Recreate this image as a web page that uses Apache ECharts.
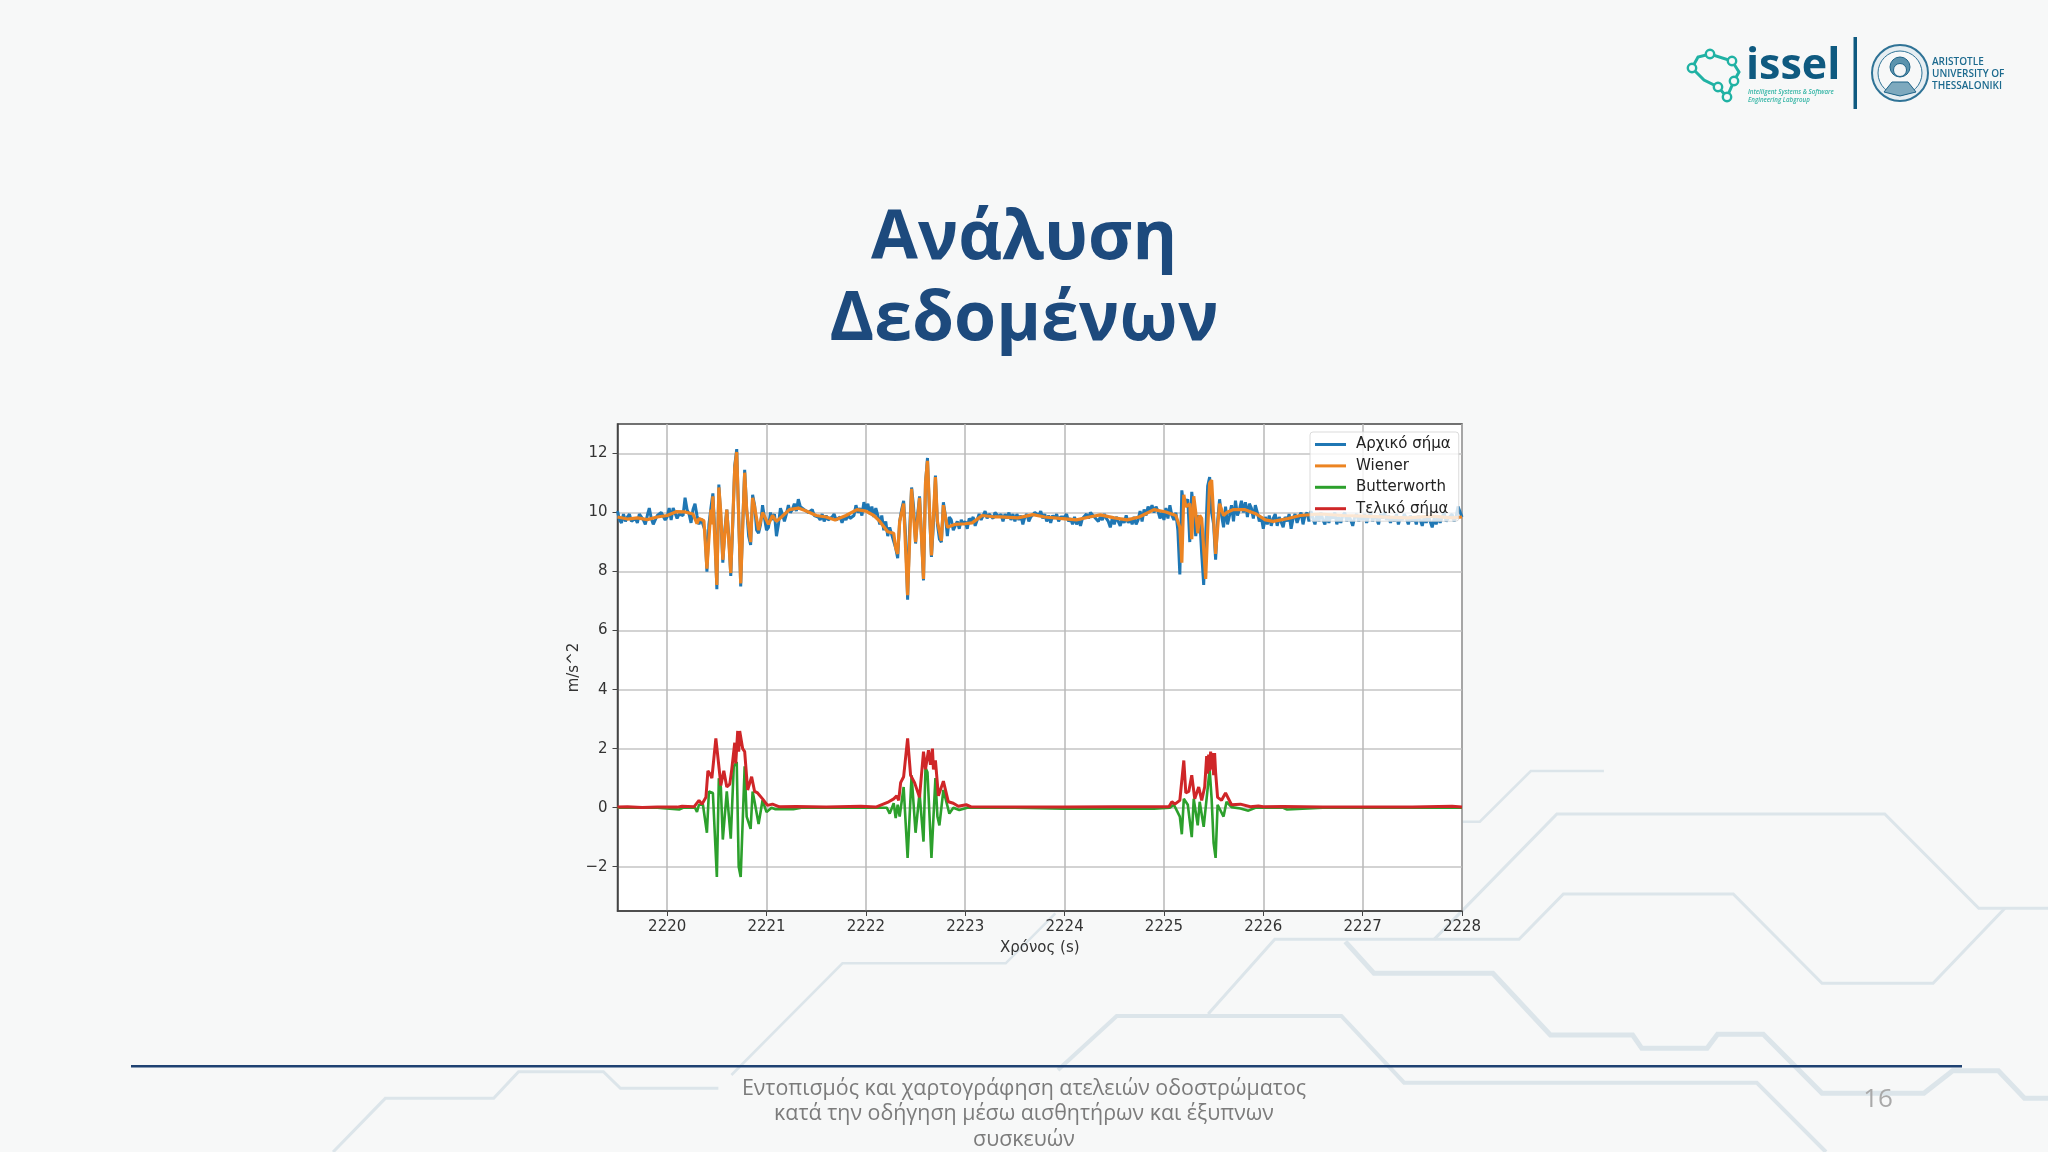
<!DOCTYPE html>
<html><head><meta charset="utf-8">
<style>html,body{margin:0;padding:0;background:#f7f8f8}#c{width:2048px;height:1152px}</style>
<script src="https://cdn.jsdelivr.net/npm/echarts@6/dist/echarts.min.js"></script>
</head><body><div id="c"></div>
<script>
const xTicks=[2220,2221,2222,2223,2224,2225,2226,2227,2228];
const yTicks=[-2,0,2,4,6,8,10,12];
const seriesNames=['Αρχικό σήμα','Wiener','Butterworth','Τελικό σήμα'];
const blueStart=2219.5, blueStep=0.02;
const blueV=[
10.05,9.75,9.65,9.95,9.7,9.85,9.95,9.7,9.65,9.8,9.65,9.95,10.0,9.75,9.6,9.9,10.15,9.8,9.6,9.75,9.9,9.85,10.0,9.95,9.75,
9.85,10.15,9.75,10.15,10.1,9.8,9.95,9.95,9.9,10.5,10.1,9.95,9.65,10.1,10.3,9.9,9.6,9.8,9.75,9.4,8.0,9.6,10.15,10.65,9.3,
7.4,10.95,9.8,8.3,9.4,10.1,9.2,7.85,9.6,11.6,12.15,9.8,7.5,9.6,11.45,10.1,9.2,8.9,10.6,10.25,9.4,9.3,9.6,10.25,9.8,
9.4,9.5,10.0,9.75,9.95,9.2,9.6,10.15,9.95,9.7,9.95,10.25,10.0,10.1,10.3,10.05,10.45,10.2,10.15,10.1,10.05,10.0,9.95,10.1,9.9,
9.95,9.85,9.75,9.95,9.7,9.9,9.75,9.7,9.85,9.95,9.75,9.8,9.85,9.65,9.85,9.75,9.95,9.8,9.75,9.9,10.25,10.0,10.15,9.9,10.35,
10.1,10.3,9.95,10.2,9.85,10.15,9.9,9.6,9.9,9.4,9.7,9.2,9.5,9.25,9.3,8.8,8.45,9.7,10.1,10.4,9.2,7.05,9.4,10.85,10.2,
8.95,9.9,10.55,9.2,7.7,11.0,11.85,10.0,8.5,9.6,11.25,9.6,9.1,9.0,10.35,9.9,9.2,9.85,9.75,9.4,9.4,9.7,9.45,9.75,9.6,
9.7,9.45,9.8,9.7,9.85,9.55,9.75,9.95,9.75,9.8,10.05,9.8,9.95,10.0,9.8,10.0,9.95,9.85,9.95,9.7,9.95,9.8,10.0,9.75,9.95,
9.7,9.95,9.75,9.9,9.6,9.85,9.95,9.7,9.85,9.8,10.0,10.05,9.9,10.05,9.8,9.95,9.7,9.9,9.65,9.9,9.8,9.95,9.7,9.85,9.9,
9.85,9.95,9.7,9.8,9.6,9.85,9.6,9.75,9.55,9.8,9.85,9.95,9.8,10.0,9.95,9.85,9.9,9.7,9.85,9.75,9.95,9.8,9.7,9.5,9.8,
9.6,9.85,9.7,9.55,9.8,9.65,9.9,9.65,9.8,9.6,9.85,9.6,9.75,10.05,9.7,10.1,9.9,10.2,10.05,10.25,10.0,10.2,10.05,9.8,10.0,
9.75,10.15,9.8,10.25,9.9,9.75,10.0,9.4,7.9,10.75,10.2,10.35,10.45,9.0,10.7,10.0,9.2,9.9,9.8,8.6,7.55,9.2,10.9,11.2,10.0,
9.6,8.4,9.7,10.45,9.9,9.5,10.2,9.6,9.9,10.25,9.7,10.4,9.9,10.1,10.4,10.0,10.35,9.85,10.3,10.15,9.8,10.25,10.0,9.7,9.85,
9.45,9.85,9.6,9.9,9.55,9.8,9.95,9.55,9.85,9.9,9.5,9.85,9.7,9.95,9.45,9.8,9.95,9.65,9.85,10.0,9.6,9.9,10.0,9.7,10.05,
9.8,9.6,9.95,9.7,10.0,9.75,9.6,9.95,9.65,9.9,9.8,10.0,9.6,9.85,9.65,9.9,10.0,9.7,9.9,9.75,9.55,9.85,9.95,9.7,9.9,
9.75,9.95,9.65,9.85,10.0,9.7,9.9,9.8,9.6,9.95,9.8,10.0,9.75,9.9,9.65,9.85,9.7,9.95,9.6,9.85,9.75,9.95,9.8,9.6,9.9,
9.7,9.85,9.6,9.9,9.75,9.55,9.85,9.65,9.9,9.7,9.5,9.8,9.6,9.9,9.65,9.85,10.0,9.7,9.8,9.75,9.95,9.7,9.85,10.2,10.15,
9.85];
const orangeT=[2219.5,2219.6,2219.7,2219.8,2219.9,2220.0,2220.09,2220.18,2220.26,2220.3,2220.32,2220.34,2220.37,2220.4,2220.44,2220.45,2220.46,2220.5,2220.52,2220.54,2220.56,2220.6,2220.64,2220.68,2220.7,2220.74,2220.78,2220.8,2220.84,2220.86,2220.88,2220.92,2220.96,2221.02,2221.06,2221.1,2221.15,2221.23,2221.32,2221.4,2221.5,2221.6,2221.69,2221.8,2221.91,2222.0,2222.08,2222.14,2222.22,2222.28,2222.3,2222.32,2222.34,2222.38,2222.42,2222.46,2222.5,2222.54,2222.58,2222.6,2222.62,2222.66,2222.7,2222.72,2222.76,2222.78,2222.82,2222.9,2223.0,2223.07,2223.17,2223.3,2223.35,2223.53,2223.68,2223.8,2223.95,2224.12,2224.25,2224.36,2224.5,2224.63,2224.75,2224.9,2225.02,2225.12,2225.16,2225.18,2225.2,2225.22,2225.26,2225.28,2225.3,2225.32,2225.34,2225.36,2225.38,2225.42,2225.46,2225.48,2225.52,2225.56,2225.6,2225.63,2225.7,2225.81,2225.93,2226.02,2226.1,2226.25,2226.37,2226.57,2226.8,2227.0,2227.2,2227.45,2227.7,2227.9,2228];
const orangeV=[9.85,9.78,9.82,9.76,9.85,9.9,10.03,10.02,9.95,9.62,9.8,9.82,9.72,8.1,10.1,9.6,10.55,7.55,10.85,10.0,8.4,10.1,7.95,11.5,12.05,7.6,11.35,10.1,9.0,10.5,10.2,9.4,10.0,9.6,9.9,9.7,9.85,10.1,10.15,10.05,9.9,9.85,9.75,9.9,10.1,10.05,9.9,9.7,9.35,9.3,8.8,8.6,9.7,10.3,7.2,10.8,9.0,10.5,7.75,11.0,11.75,8.55,11.2,9.7,9.05,10.25,9.5,9.6,9.62,9.65,9.9,9.85,9.85,9.82,9.93,9.85,9.8,9.75,9.85,9.92,9.82,9.75,9.85,10.1,10.02,9.9,9.5,8.3,10.6,10.2,10.3,9.1,10.55,10.0,9.3,9.9,9.8,7.75,11.0,11.1,8.6,10.3,9.9,10.0,10.1,10.1,9.95,9.75,9.7,9.8,9.9,9.95,9.9,9.88,9.85,9.82,9.88,9.82,9.85];
const greenT=[2219.5,2219.9,2220.12,2220.16,2220.28,2220.3,2220.32,2220.36,2220.4,2220.42,2220.44,2220.46,2220.5,2220.52,2220.54,2220.56,2220.6,2220.64,2220.67,2220.7,2220.72,2220.74,2220.78,2220.8,2220.84,2220.86,2220.88,2220.92,2220.96,2221.0,2221.05,2221.09,2221.27,2221.35,2221.9,2222.21,2222.24,2222.28,2222.3,2222.32,2222.34,2222.38,2222.42,2222.46,2222.5,2222.54,2222.58,2222.6,2222.62,2222.66,2222.7,2222.72,2222.74,2222.78,2222.84,2222.88,2222.94,2223.02,2223.5,2224.0,2224.34,2224.9,2225.06,2225.1,2225.13,2225.16,2225.18,2225.2,2225.24,2225.28,2225.3,2225.34,2225.36,2225.4,2225.46,2225.48,2225.5,2225.52,2225.54,2225.6,2225.63,2225.68,2225.77,2225.85,2225.92,2226.0,2226.2,2226.24,2226.6,2227.0,2228];
const greenV=[0,0,-0.06,0,0,-0.14,0.1,0.1,-0.85,0.55,0.55,0.5,-2.35,1.0,0.7,-1.08,0.55,-1.05,1.4,1.55,-2.0,-2.35,1.4,-0.3,-0.72,0.55,0.2,-0.55,0.25,-0.15,0,-0.05,-0.05,0,0,0,-0.2,0.15,-0.35,0.1,-0.3,0.7,-1.7,1.1,-0.85,0.5,-1.15,1.35,1.2,-1.7,1.0,-0.3,-0.6,0.6,-0.2,0,-0.08,0,0,-0.03,-0.03,-0.03,0,0.1,-0.1,-0.3,-0.9,0.3,0.1,-1.0,0.3,-0.6,0.2,-0.65,1.3,0.3,-1.2,-1.7,0.1,-0.3,0.2,0.02,-0.03,-0.1,0,0,0,-0.06,0,0,0];
const redT=[2219.5,2219.6,2219.75,2219.9,2220.1,2220.15,2220.27,2220.32,2220.35,2220.39,2220.41,2220.43,2220.45,2220.49,2220.53,2220.54,2220.57,2220.6,2220.63,2220.65,2220.68,2220.69,2220.71,2220.72,2220.73,2220.74,2220.76,2220.78,2220.81,2220.85,2220.88,2220.91,2220.96,2221.01,2221.06,2221.13,2221.3,2221.6,2221.95,2222.1,2222.23,2222.28,2222.31,2222.33,2222.35,2222.38,2222.4,2222.42,2222.45,2222.49,2222.54,2222.58,2222.6,2222.63,2222.65,2222.67,2222.68,2222.7,2222.73,2222.78,2222.83,2222.88,2222.93,2223.01,2223.06,2223.5,2224.0,2224.5,2225.05,2225.08,2225.11,2225.16,2225.2,2225.22,2225.25,2225.28,2225.31,2225.35,2225.38,2225.41,2225.43,2225.44,2225.45,2225.46,2225.47,2225.48,2225.49,2225.5,2225.51,2225.52,2225.54,2225.58,2225.62,2225.68,2225.77,2225.87,2225.95,2226.0,2226.2,2226.6,2227.0,2227.5,2227.9,2228];
const redV=[0.02,0.03,0.01,0.02,0.02,0.05,0.03,0.25,0.12,0.35,1.25,1.15,1.0,2.35,1.1,0.75,1.25,0.7,0.8,1.3,2.2,1.5,2.6,1.9,2.6,2.6,2.0,1.9,0.6,1.05,0.55,0.5,0.3,0.08,0.12,0.03,0.04,0.02,0.05,0.02,0.2,0.3,0.4,0.25,0.85,1.05,1.0,2.35,1.1,0.85,0.35,1.9,1.3,1.95,1.45,2.0,1.3,1.6,0.4,0.9,0.2,0.15,0.05,0.1,0.03,0.02,0.02,0.03,0.03,0.2,0.12,0.25,1.6,0.5,0.55,1.1,0.3,0.7,0.25,0.7,1.75,1.15,1.8,1.25,1.9,1.3,1.85,1.1,1.85,1.2,0.35,0.25,0.5,0.1,0.12,0.03,0.06,0.03,0.04,0.02,0.02,0.02,0.05,0.02];

const zip=(t,v)=>t.map((x,i)=>[x,v[i]]);
const blueData=blueV.map((v,i)=>[+(blueStart+i*blueStep).toFixed(2),v]);

const K=2048/1568;
const bgPaths=[
 {w:2.5,p:[[1100,185],[1133,185],[1172,33],[1228,33]]},
 {w:3,p:[[1098,538],[1192,162],[1443,162],[1515,445],[1568,445]]},
 {w:3,p:[[925,762],[976,538],[1163,538],[1197,402],[1327,402],[1395,670],[1480,670],[1535,445]]},
 {w:4,p:[[810,930],[855,768],[1027,768],[1075,968],[1345,968],[1398,1176]]},
 {w:5,p:[[1030,545],[1052,640],[1143,640],[1187,825],[1250,825],[1257,865],[1307,865],[1315,823],[1350,823],[1395,1000],[1473,1000],[1495,932],[1530,932],[1550,1015],[1568,1015]]},
 {w:2.5,p:[[560,945],[645,610],[770,610],[808,460]]},
 {w:3,p:[[255,1176],[295,1015],[378,1015],[397,935],[462,935],[475,985],[550,985]]}
];
const bg=bgPaths.map(o=>({type:'polyline',z:-10,silent:true,
  shape:{points:o.p.map(([x,y])=>[x*K,760+y/3])},
  style:{fill:null,stroke:'#dce5ea',lineWidth:o.w,lineJoin:'miter'}}));

const navy='#1d4a7d';
const txt=(x,y,text,font,fill,align)=>({type:'text',x,y,z:5,silent:true,
  style:{text,font,fill,align:align||'center',verticalAlign:'middle'}});

const nodes=[[1710,54],[1732,61],[1734,81],[1718,87],[1727,97],[1692,68]];
const logo=[
 {type:'polyline',z:5,silent:true,shape:{points:[[1692,68],[1698,57],[1710,54],[1732,61],[1739,72],[1734,81],[1727,97],[1718,87],[1704,80],[1692,68]]},style:{fill:null,stroke:'#20b2a4',lineWidth:3}},
 ...nodes.map(([cx,cy])=>({type:'circle',z:6,silent:true,shape:{cx,cy,r:4.2},style:{fill:'#f7f8f8',stroke:'#20b2a4',lineWidth:2.4}})),
 txt(1746,67,'issel','700 43px "Open Sans"','#0f5a80','left'),
 txt(1748,92,'Intelligent Systems & Software','italic 600 6.2px "Open Sans"','#35b5a6','left'),
 txt(1748,100,'Engineering Labgroup','italic 600 6.2px "Open Sans"','#35b5a6','left'),
 {type:'rect',z:5,silent:true,shape:{x:1853.5,y:37,width:3.5,height:72},style:{fill:'#0f5a80'}},
 {type:'circle',z:5,silent:true,shape:{cx:1900,cy:73,r:28},style:{fill:'#e6eef2',stroke:'#2f7396',lineWidth:2}},
 {type:'circle',z:5,silent:true,shape:{cx:1900,cy:73,r:22},style:{fill:'#f7f8f8',stroke:'#2f7396',lineWidth:1}},
 {type:'circle',z:6,silent:true,shape:{cx:1900,cy:67,r:10},style:{fill:'#5b93ad',stroke:'#1f6488',lineWidth:1}},
 {type:'circle',z:7,silent:true,shape:{cx:1900,cy:70,r:6.5},style:{fill:'#f4f6f7',stroke:'#1f6488',lineWidth:1}},
 {type:'polygon',z:6,silent:true,shape:{points:[[1884,92],[1892,82],[1908,82],[1916,92],[1900,96]]},style:{fill:'#7da9be',stroke:'#1f6488',lineWidth:1}},
 txt(1932,62,'ARISTOTLE','600 10px "Open Sans"','#1c6a8e','left'),
 txt(1932,74,'UNIVERSITY OF','600 10px "Open Sans"','#1c6a8e','left'),
 txt(1932,86,'THESSALONIKI','600 10px "Open Sans"','#1c6a8e','left')
];

const slide=[
 ...bg,...logo,
 txt(1024,240,'Ανάλυση','700 68px "Open Sans"',navy),
 txt(1024,321,'Δεδομένων','700 68px "Open Sans"',navy),
 {type:'rect',z:5,silent:true,shape:{x:131,y:1065,width:1831,height:2.5},style:{fill:'#1f4272'}},
 txt(1024,1089,'Εντοπισμός και χαρτογράφηση ατελειών οδοστρώματος','400 21.4px "Open Sans"','#7b7b7b'),
 txt(1024,1114,'κατά την οδήγηση μέσω αισθητήρων και έξυπνων','400 21.4px "Open Sans"','#7b7b7b'),
 txt(1024,1140,'συσκευών','400 21.4px "Open Sans"','#7b7b7b'),
 txt(1878,1100,'16','400 26px "Open Sans"','#a9a9a9')
];

const font='"DejaVu Sans"';
const chart=echarts.init(document.getElementById('c'),null,{renderer:'canvas'});
chart.setOption({
 animation:false,
 backgroundColor:'#f7f8f8',
 graphic:{elements:slide},
 grid:{left:617.5,top:424,right:586,bottom:241,show:true,backgroundColor:'#fff',borderColor:'#444',borderWidth:1.5,containLabel:false},
 legend:{orient:'vertical',left:1310,top:432,padding:[5,8,5,5],itemWidth:31,itemHeight:3,itemGap:6.4,icon:'rect',
  backgroundColor:'rgba(255,255,255,0.8)',borderColor:'rgba(210,210,210,0.8)',borderWidth:1,borderRadius:3,
  textStyle:{fontFamily:font,fontSize:15,color:'#222',padding:[0,0,0,5]},data:seriesNames},
 xAxis:{type:'value',min:2219.5,max:2228,name:'Χρόνος (s)',nameLocation:'middle',nameGap:30,
  nameTextStyle:{fontFamily:font,fontSize:15,color:'#333'},
  axisLine:{show:true,onZero:false,lineStyle:{color:'#444',width:1.5}},
  axisTick:{show:true,length:5,customValues:xTicks,lineStyle:{color:'#444',width:1}},
  axisLabel:{customValues:xTicks,fontFamily:font,fontSize:15,color:'#333',margin:9,formatter:v=>String(v)},
  splitLine:{show:true,lineStyle:{color:'#b8b8b8',width:1.5}}},
 yAxis:{type:'value',min:-3.5,max:13,name:'m/s^2',nameLocation:'middle',nameGap:36,
  nameTextStyle:{fontFamily:font,fontSize:15,color:'#333'},
  axisLine:{show:true,onZero:false,lineStyle:{color:'#444',width:1.5}},
  axisTick:{show:true,length:5,customValues:yTicks,lineStyle:{color:'#444',width:1}},
  axisLabel:{customValues:yTicks,fontFamily:font,fontSize:15,color:'#333',margin:10,formatter:v=>String(v).replace('-','−')},
  splitLine:{show:true,lineStyle:{color:'#c4c4c4',width:1.5}}},
 series:[
  {name:seriesNames[0],type:'line',data:blueData,showSymbol:false,lineStyle:{color:'#1f77b4',width:3},itemStyle:{color:'#1f77b4'},z:2},
  {name:seriesNames[1],type:'line',data:zip(orangeT,orangeV),showSymbol:false,lineStyle:{color:'#ec8422',width:3.2},itemStyle:{color:'#ec8422'},z:3},
  {name:seriesNames[2],type:'line',data:zip(greenT,greenV),showSymbol:false,lineStyle:{color:'#2ca02c',width:2.6},itemStyle:{color:'#2ca02c'},z:4},
  {name:seriesNames[3],type:'line',data:zip(redT,redV),showSymbol:false,lineStyle:{color:'#cf2628',width:3},itemStyle:{color:'#cf2628'},z:5}
 ]
});
</script></body></html>
